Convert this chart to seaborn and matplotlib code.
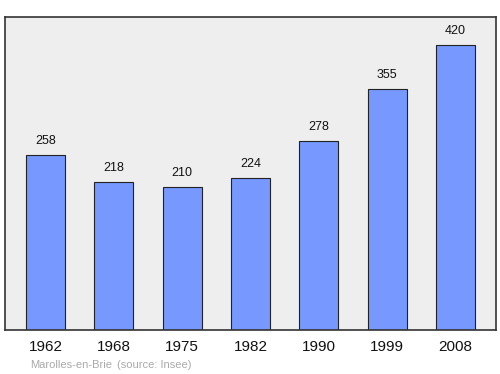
import matplotlib
matplotlib.use("Agg")
import matplotlib.pyplot as plt
import seaborn as sns
import pandas as pd

years = ["1962", "1968", "1975", "1982", "1990", "1999", "2008"]
population = [258, 218, 210, 224, 278, 355, 420]

sns.set_theme(style="white")
plt.rcParams['font.family'] = ['Liberation Sans', 'DejaVu Sans']

df = pd.DataFrame({"year": years, "pop": population})

fig = plt.figure(figsize=(5, 3.74), dpi=100)
ax = fig.add_axes([0.01, 0.1176, 0.982, 0.837])
ax.set_facecolor("#eeeeee")
sns.barplot(data=df, x="year", y="pop", ax=ax, color="#7799ff", saturation=1,
            width=0.57, edgecolor="#222222", linewidth=0.8)
for p, v in zip(ax.patches, population):
    ax.text(p.get_x() + p.get_width() / 2, v + 21, str(v), ha="center", va="center",
            fontsize=9, color="#111111")
ax.set_xlim(-0.593, 6.593)
ax.set_ylim(0, 461)
ax.set_yticks([])
ax.set_xlabel("")
ax.set_ylabel("")
ax.tick_params(axis="x", length=0, pad=7, labelsize=11, labelcolor="#111111")
for s in ax.spines.values():
    s.set_visible(True)
    s.set_color("#333333")
    s.set_linewidth(1.2)
fig.text(0.06, 0.024, "Marolles-en-Brie", fontsize=8, color="#aaaaaa", va="center")
fig.text(0.234, 0.024, "(source: Insee)", fontsize=8, color="#aaaaaa", va="center")
fig.savefig("out.png", dpi=100)
